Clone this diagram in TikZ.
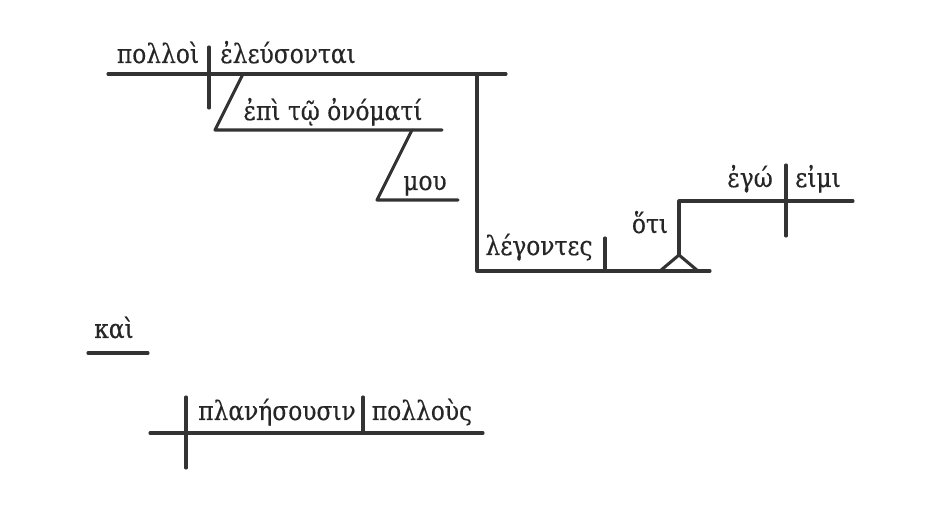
\documentclass[tikz,border=0pt]{standalone}
\usepackage{fontspec}
\setmainfont{DejaVu Serif}[FakeStretch=0.875,FakeBold=0.4]
\begin{document}
\begin{tikzpicture}[x=0.75pt,y=-0.75pt,
  ln/.style={line width=2.3pt,draw=black!80,line cap=round,line join=round},
  wd/.style={anchor=base,inner sep=0pt,font=\fontsize{20}{23}\selectfont,text=black!85}]
\useasboundingbox (0,0) rectangle (926,506);
% words
\node[wd] (polloi) at (158,63) {πολλοὶ};
\node[wd] (eleus) at (288,63) {ἐλεύσονται};
\node[wd] (epi) at (333,120) {ἐπὶ τῷ ὀνόματί};
\node[wd] (mou) at (425,190) {μου};
\node[wd] (leg) at (539,255) {λέγοντες};
\node[wd] (hoti) at (650,233) {ὅτι};
\node[wd] (ego) at (750,187) {ἐγώ};
\node[wd] (eimi) at (818,187) {εἰμι};
\node[wd] (kai) at (114,338) {καὶ};
\node[wd] (plan) at (277,420) {πλανήσουσιν};
\node[wd] (pollous) at (422,420) {πολλοὺς};
% main clause
\coordinate (mL) at (108,74); \coordinate (mR) at (506,74);
\coordinate (d1t) at (209,47); \coordinate (d1b) at (209,108);
\draw[ln] (mL) -- (mR);
\draw[ln] (d1t) -- (d1b);
% prepositional phrase
\coordinate (p1) at (243,74); \coordinate (p2) at (215,130); \coordinate (p3) at (442,130);
\draw[ln] (p1) -- (p2) -- (p3);
\coordinate (q1) at (412,130); \coordinate (q2) at (377,200); \coordinate (q3) at (458,200);
\draw[ln] (q1) -- (q2) -- (q3);
% participle
\coordinate (v1) at (477,74); \coordinate (v2) at (477,271); \coordinate (v3) at (710,271);
\draw[ln] (v1) -- (v2) -- (v3);
\coordinate (t1) at (605,238); \coordinate (t2) at (605,271);
\draw[ln] (t1) -- (t2);
% pedestal
\coordinate (apex) at (679,255); \coordinate (bl) at (660,271); \coordinate (br) at (698,271);
\draw[ln] (bl) -- (apex) -- (br);
\coordinate (s1) at (679,201); \coordinate (s2) at (853,201);
\draw[ln] (apex) -- (s1) -- (s2);
\coordinate (d2t) at (786,165); \coordinate (d2b) at (786,236);
\draw[ln] (d2t) -- (d2b);
% kai
\coordinate (k1) at (88,353); \coordinate (k2) at (148,353);
\draw[ln] (k1) -- (k2);
% second clause
\coordinate (bL) at (150,433); \coordinate (bR) at (483,433);
\draw[ln] (bL) -- (bR);
\coordinate (d3t) at (186,397); \coordinate (d3b) at (186,468);
\draw[ln] (d3t) -- (d3b);
\coordinate (d4t) at (363,397); \coordinate (d4b) at (363,433);
\draw[ln] (d4t) -- (d4b);
\end{tikzpicture}
\end{document}
